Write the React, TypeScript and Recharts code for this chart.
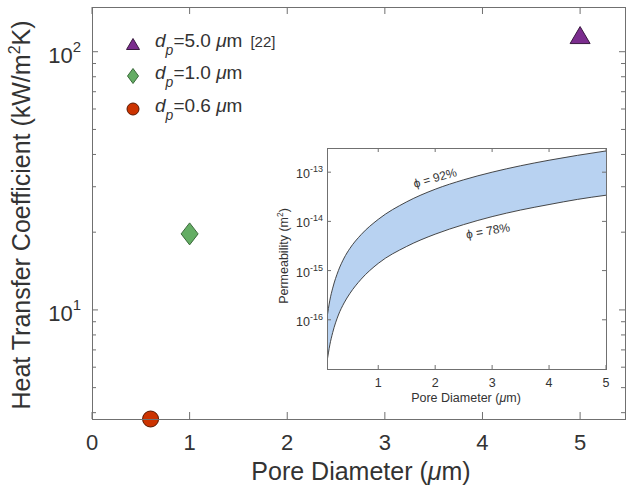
import React from 'react';
import { ScatterChart, Scatter, XAxis, YAxis, AreaChart, Area } from 'recharts';

const FONT = '"Liberation Sans", Arial, sans-serif';
const TEXT = '#333';
const AXIS = '#707070';

// main plot
const xTicks = [0, 1, 2, 3, 4, 5];
const yTicks = [4, 5, 6, 7, 8, 9, 10, 20, 30, 40, 50, 60, 70, 80, 90, 100];
const yMajor = [10, 100];
const dp50 = [{ d: 5.0, h: 116 }];
const dp10 = [{ d: 1.0, h: 19.7 }];
const dp06 = [{ d: 0.6, h: 3.78 }];

// inset: permeability band
const insetD = [0.1, 0.15, 0.2, 0.3, 0.4, 0.5, 0.7, 1, 1.5, 2, 2.5, 3, 3.5, 4, 4.5, 5];
const phi92 = [1.1e-16, 2.5e-16, 4.4e-16, 1.0e-15, 1.8e-15, 2.8e-15, 5.4e-15, 1.1e-14, 2.5e-14, 4.5e-14, 7.0e-14, 1.0e-13, 1.35e-13, 1.75e-13, 2.2e-13, 2.7e-13];
const phi78 = [1.4e-17, 3.1e-17, 5.5e-17, 1.25e-16, 2.2e-16, 3.4e-16, 6.7e-16, 1.4e-15, 3.1e-15, 5.5e-15, 8.6e-15, 1.25e-14, 1.7e-14, 2.2e-14, 2.8e-14, 3.4e-14];
const insetXTicks = [1, 2, 3, 4, 5];
const insetYTicks = [1e-16, 1e-15, 1e-14, 1e-13];

// main plot box
const L = 92, R = 625, T = 7, B = 419;
// inset box (local to inset svg)
const IL = 57, IR = 336, IT = 18, IB = 239;

const mainXTick = (props: any) => {
  const { x, payload } = props;
  return (
    <g key={`mx-${payload.value}`}>
      <line x1={x} x2={x} y1={B} y2={B - 7} stroke={AXIS} />
      <line x1={x} x2={x} y1={T} y2={T + 7} stroke={AXIS} />
      <text x={x} y={B + 31} textAnchor="middle" fontSize={22} fill={TEXT} fontFamily={FONT}>
        {payload.value}
      </text>
    </g>
  );
};

const mainYTick = (props: any) => {
  const { y, payload } = props;
  const v = payload.value;
  const major = yMajor.includes(v);
  const len = major ? 6 : 4;
  return (
    <g key={`my-${v}`}>
      <line x1={L} x2={L + len} y1={y} y2={y} stroke={AXIS} />
      <line x1={R} x2={R - len} y1={y} y2={y} stroke={AXIS} />
      {major && (
        <text x={81} y={y + 11} textAnchor="end" fontSize={22} fill={TEXT} fontFamily={FONT}>
          <tspan>10</tspan>
          <tspan dy={-11} fontSize={15}>{Math.round(Math.log10(v))}</tspan>
        </text>
      )}
    </g>
  );
};

const insetXTick = (props: any) => {
  const { x, payload } = props;
  return (
    <g key={`ix-${payload.value}`}>
      <line x1={x} x2={x} y1={IB} y2={IB - 4} stroke={AXIS} />
      <line x1={x} x2={x} y1={IT} y2={IT + 4} stroke={AXIS} />
      <text x={x} y={IB + 18} textAnchor="middle" fontSize={12.5} fill={TEXT} fontFamily={FONT}>
        {payload.value}
      </text>
    </g>
  );
};

const insetYTick = (props: any) => {
  const { y, payload } = props;
  const e = Math.round(Math.log10(payload.value));
  return (
    <g key={`iy-${e}`}>
      <line x1={IL} x2={IL + 4} y1={y} y2={y} stroke={AXIS} />
      <line x1={IR} x2={IR - 4} y1={y} y2={y} stroke={AXIS} />
      <text x={IL - 4} y={y + 6} textAnchor="end" fontSize={12.5} fill={TEXT} fontFamily={FONT}>
        <tspan>10</tspan>
        <tspan dy={-6} fontSize={9}>{e}</tspan>
      </text>
    </g>
  );
};

const Triangle = ({ cx, cy, w = 20, h = 17 }: any) => (
  <polygon
    points={`${cx},${cy - h / 2} ${cx + w / 2},${cy + h / 2} ${cx - w / 2},${cy + h / 2}`}
    fill="#7B2D8E"
    stroke="#3a1a40"
    strokeWidth={1}
  />
);
const Diamond = ({ cx, cy, w = 17, h = 22 }: any) => (
  <polygon
    points={`${cx},${cy - h / 2} ${cx + w / 2},${cy} ${cx},${cy + h / 2} ${cx - w / 2},${cy}`}
    fill="#64AD64"
    stroke="#3b6a3b"
    strokeWidth={1}
  />
);
const Dot = ({ cx, cy, r = 8 }: any) => (
  <circle cx={cx} cy={cy} r={r} fill="#CC3300" stroke="#5a1800" strokeWidth={1} />
);

const legendRows = [
  { label: '=5.0', ref: '[22]', icon: <Triangle cx={12} cy={12} w={13} h={11} /> },
  { label: '=1.0', ref: '', icon: <Diamond cx={12} cy={12} w={11} h={15} /> },
  { label: '=0.6', ref: '', icon: <Dot cx={12} cy={12} r={6} /> },
];

export default function App() {
  const insetData = insetD.map((d, i) => ({ d, lo: phi78[i], hi: phi92[i] }));
  return (
    <div style={{ position: 'absolute', left: 0, top: 0, width: 626, height: 491, background: '#fff', fontFamily: FONT, color: TEXT }}>
      <ScatterChart width={626} height={491} margin={{ top: T, right: 626 - R, bottom: 491 - B - 2, left: L - 2 }}>
        <XAxis
          type="number"
          dataKey="d"
          domain={[0, 5.46]}
          ticks={xTicks}
          interval={0}
          height={2}
          axisLine={false}
          tickLine={false}
          tick={mainXTick}
        />
        <YAxis
          type="number"
          dataKey="h"
          scale="log"
          domain={[3.78, 149]}
          ticks={yTicks}
          interval={0}
          width={2}
          axisLine={false}
          tickLine={false}
          tick={mainYTick}
        />
        <Scatter data={dp50} isAnimationActive={false} shape={(p: any) => <Triangle cx={p.cx} cy={p.cy} />} />
        <Scatter data={dp10} isAnimationActive={false} shape={(p: any) => <Diamond cx={p.cx} cy={p.cy} />} />
        <Scatter data={dp06} isAnimationActive={false} shape={(p: any) => <Dot cx={p.cx} cy={p.cy} />} />
      </ScatterChart>

      {/* main box */}
      <div style={{ position: 'absolute', left: L, top: T, width: R - L + 1, height: B - T + 1, border: `1px solid ${AXIS}`, boxSizing: 'border-box', pointerEvents: 'none' }} />

      {/* axis titles */}
      <div style={{ position: 'absolute', left: 361, top: 471, transform: 'translate(-50%, -50%)', fontSize: 25, lineHeight: 1, whiteSpace: 'nowrap' }}>
        Pore Diameter (<i>μ</i>m)
      </div>
      <div style={{ position: 'absolute', left: 21, top: 215, transform: 'translate(-50%, -50%) rotate(-90deg)', fontSize: 25, lineHeight: 1, whiteSpace: 'nowrap' }}>
        Heat Transfer Coefficient (kW/m<sup style={{ fontSize: 16, verticalAlign: 'super', lineHeight: 0 }}>2</sup>K)
      </div>

      {/* legend */}
      <div style={{ position: 'absolute', left: 121, top: 28 }}>
        {legendRows.map((r, i) => (
          <div key={i} style={{ display: 'flex', alignItems: 'center', height: 32, marginBottom: i === 0 ? 0 : 1 }}>
            <svg width={24} height={24} style={{ flex: 'none' }}>{r.icon}</svg>
            <span style={{ marginLeft: 10, fontSize: 19, whiteSpace: 'nowrap', position: 'relative', top: -3 }}>
              <i>d</i>
              <sub style={{ fontSize: 14, fontStyle: 'italic', verticalAlign: 'baseline', position: 'relative', top: 8 }}>p</sub>
              {r.label} <i>μ</i>m
              {r.ref && <span style={{ fontSize: 15, marginLeft: 8 }}>{r.ref}</span>}
            </span>
          </div>
        ))}
      </div>

      {/* inset */}
      <div style={{ position: 'absolute', left: 270, top: 130 }}>
        <AreaChart width={356} height={290} data={insetData} margin={{ top: IT, right: 356 - IR, bottom: 290 - IB - 2, left: IL - 2 }}>
          <XAxis
            type="number"
            dataKey="d"
            domain={[0.1, 5]}
            ticks={insetXTicks}
            interval={0}
            allowDataOverflow
            height={2}
            axisLine={false}
            tickLine={false}
            tick={insetXTick}
          />
          <YAxis
            type="number"
            scale="log"
            domain={[1e-17, 3.1e-13]}
            ticks={insetYTicks}
            interval={0}
            allowDataOverflow
            width={2}
            axisLine={false}
            tickLine={false}
            tick={insetYTick}
          />
          <Area
            type="monotone"
            dataKey={(r: any) => [r.lo, r.hi]}
            fill="#B8D2F1"
            fillOpacity={1}
            stroke="#333"
            strokeWidth={0.9}
            dot={false}
            activeDot={false}
            isAnimationActive={false}
          />
        </AreaChart>
        <div style={{ position: 'absolute', left: IL, top: IT, width: IR - IL + 1, height: IB - IT + 1, border: `1px solid ${AXIS}`, boxSizing: 'border-box', pointerEvents: 'none' }} />
      </div>

      {/* inset labels */}
      <div style={{ position: 'absolute', left: 466, top: 398, transform: 'translate(-50%, -50%)', fontSize: 12.5, lineHeight: 1, whiteSpace: 'nowrap' }}>
        Pore Diameter (<i>μ</i>m)
      </div>
      <div style={{ position: 'absolute', left: 284, top: 256, transform: 'translate(-50%, -50%) rotate(-90deg)', fontSize: 12.5, lineHeight: 1, whiteSpace: 'nowrap' }}>
        Permeability (m<sup style={{ fontSize: 8.5, verticalAlign: 'super', lineHeight: 0 }}>2</sup>)
      </div>
      <div style={{ position: 'absolute', left: 435, top: 178, transform: 'translate(-50%, -50%) rotate(-16deg)', fontSize: 12, whiteSpace: 'nowrap' }}>
        ϕ = 92%
      </div>
      <div style={{ position: 'absolute', left: 488, top: 231, transform: 'translate(-50%, -50%) rotate(-10deg)', fontSize: 12, whiteSpace: 'nowrap' }}>
        ϕ = 78%
      </div>
    </div>
  );
}
